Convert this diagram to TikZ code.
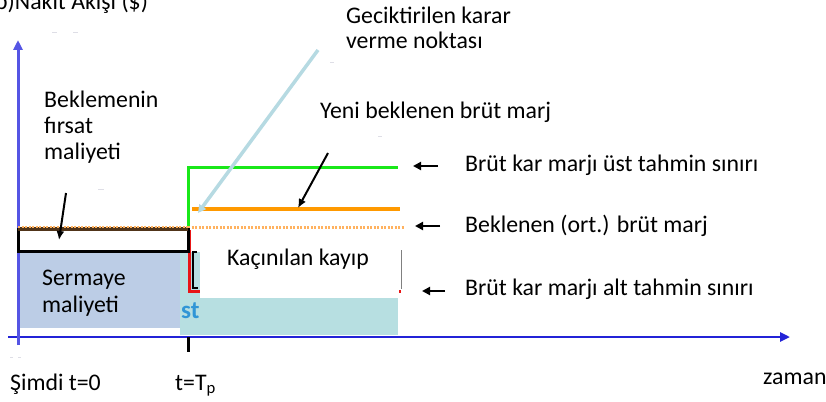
\documentclass[tikz,border=0pt]{standalone}
\usepackage{fontspec}
\setmainfont{Carlito}
\usetikzlibrary{arrows.meta}

\definecolor{axisblue}{RGB}{35,35,215}
\definecolor{yaxisblue}{RGB}{85,85,228}
\definecolor{capfill}{RGB}{188,205,230}
\definecolor{lossfill}{RGB}{183,223,225}
\definecolor{topgreen}{RGB}{25,232,25}
\definecolor{margorange}{RGB}{255,153,0}
\definecolor{dotorange}{RGB}{255,178,95}
\definecolor{waitbrown}{RGB}{80,52,25}
\definecolor{lowred}{RGB}{232,22,22}
\definecolor{pointer}{RGB}{182,218,226}
\definecolor{stblue}{RGB}{48,150,214}
\definecolor{speck}{RGB}{222,222,230}

\begin{document}
\begin{tikzpicture}[x=1pt,y=-1pt,
  font=\fontsize{23.8}{26}\selectfont,
  lbl/.style={anchor=base west, inner sep=0pt},
  rule/.style={line width=3pt},
  callout/.style={line width=2pt, -{Latex[length=9pt,width=8pt]}},
  legendarrow/.style={line width=2.5pt, -{Triangle[length=8pt,width=8pt]}},
  axisline/.style={line width=2.5pt, -{Triangle[length=10pt,width=9pt]}}]
\useasboundingbox (0,0) rectangle (826,401);

% shaded areas: capital cost, avoided loss
\fill[lossfill] (180,252) rectangle (398,335);
\fill[capfill] (20,252) rectangle (180,328);
\node[lbl, font=\fontsize{25}{26}\selectfont\bfseries, text=stblue] (cst) at (181,318) {st};

% lower estimate bound
\draw[lowred, rule] (189.5,230) -- (189.5,291) -- (401,291);
\draw[line width=1.5pt] (197,252) -- (193,252) -- (193,288) -- (198,288);

% avoided loss label panel
\fill[white] (200,244) rectangle (399,298);
\draw[gray, line width=0.6pt] (401,250) -- (401,289);

% upper estimate bound
\draw[topgreen, rule] (188,228) -- (188,167) -- (398,167);
% new expected margin
\draw[margorange, line width=3.5pt] (192,209) -- (400,209);
% expected (mean) margin after the decision point
\draw[dotorange, line width=3pt, dash pattern=on 2pt off 1.5pt] (188,227) -- (405,227);

% axes
\draw[axisblue, axisline] (8,337) -- (790,337);
\draw[yaxisblue, axisline, line width=3pt] (18,345) -- (18,40);
\draw[line width=3pt] (188,337) -- (188,352);

% waiting period box, with the mean margin dotted along its top
\draw[rule] (18,228) -- (18,251) -- (188,251) -- (188,228);
\draw[waitbrown, line width=3.5pt] (18,229) -- (188,229);
\draw[dotorange, line width=1.3pt, dash pattern=on 2pt off 1.5pt] (18,227) -- (188,227);

% faint specks
\draw[speck, line width=1pt] (52,33) -- (57,33) (73,33) -- (78,33);
\draw[speck, line width=1pt] (10,357) -- (13,357) (18,357) -- (21,357);
\draw[speck, line width=1pt] (98,189) -- (104,189) (330,63) -- (334,63) (378,136) -- (382,136);

% labels
\node[lbl] (title) at (-5,10) {b)Nakit Akışı (\$)};
\node[lbl] (delay1) at (346,24) {Geciktirilen karar};
\node[lbl] (delay2) at (346,49) {verme noktası};
\node[lbl] (newmargin) at (320,118) {Yeni beklenen brüt marj};
\node[lbl] (wait1) at (44,107) {Beklemenin};
\node[lbl] (wait2) at (44,133) {fırsat};
\node[lbl] (wait3) at (44,159) {maliyeti};
\node[lbl] (upper) at (465,171) {Brüt kar marjı üst tahmin sınırı};
\node[lbl] (mean) at (465,232) {Beklenen (ort.) brüt marj};
\node[lbl] (lower) at (465,295) {Brüt kar marjı alt tahmin sınırı};
\node[lbl] (loss) at (227,265) {Kaçınılan kayıp};
\node[lbl] (cap1) at (42,285) {Sermaye};
\node[lbl] (cap2) at (42,312) {maliyeti};
\node[lbl] (now) at (10,390) {Şimdi t=0};
\node[lbl] (tp) at (175,390) {t=T\textsubscript{p}};
\node[lbl] (time) at (763,384) {zaman};

% connector end points
\coordinate (ptrtail) at (318,50);
\coordinate (ptrtip) at (198,213);
\coordinate (newtail) at (328,153);
\coordinate (newtip) at (298,208);
\coordinate (waittail) at (66,193);
\coordinate (waittip) at (59,240);
\coordinate (uppertail) at (438,166);
\coordinate (uppertip) at (413,166);
\coordinate (meantail) at (440,226);
\coordinate (meantip) at (415,226);
\coordinate (lowertail) at (445,291);
\coordinate (lowertip) at (422,291);

% connectors
\draw[pointer, line width=3.5pt, -{Triangle[length=8pt,width=8pt]}] (ptrtail) -- (ptrtip);
\draw[callout] (newtail) -- (newtip);
\draw[callout] (waittail) -- (waittip);
\draw[legendarrow] (uppertail) -- (uppertip);
\draw[legendarrow] (meantail) -- (meantip);
\draw[legendarrow] (lowertail) -- (lowertip);
\end{tikzpicture}
\end{document}
